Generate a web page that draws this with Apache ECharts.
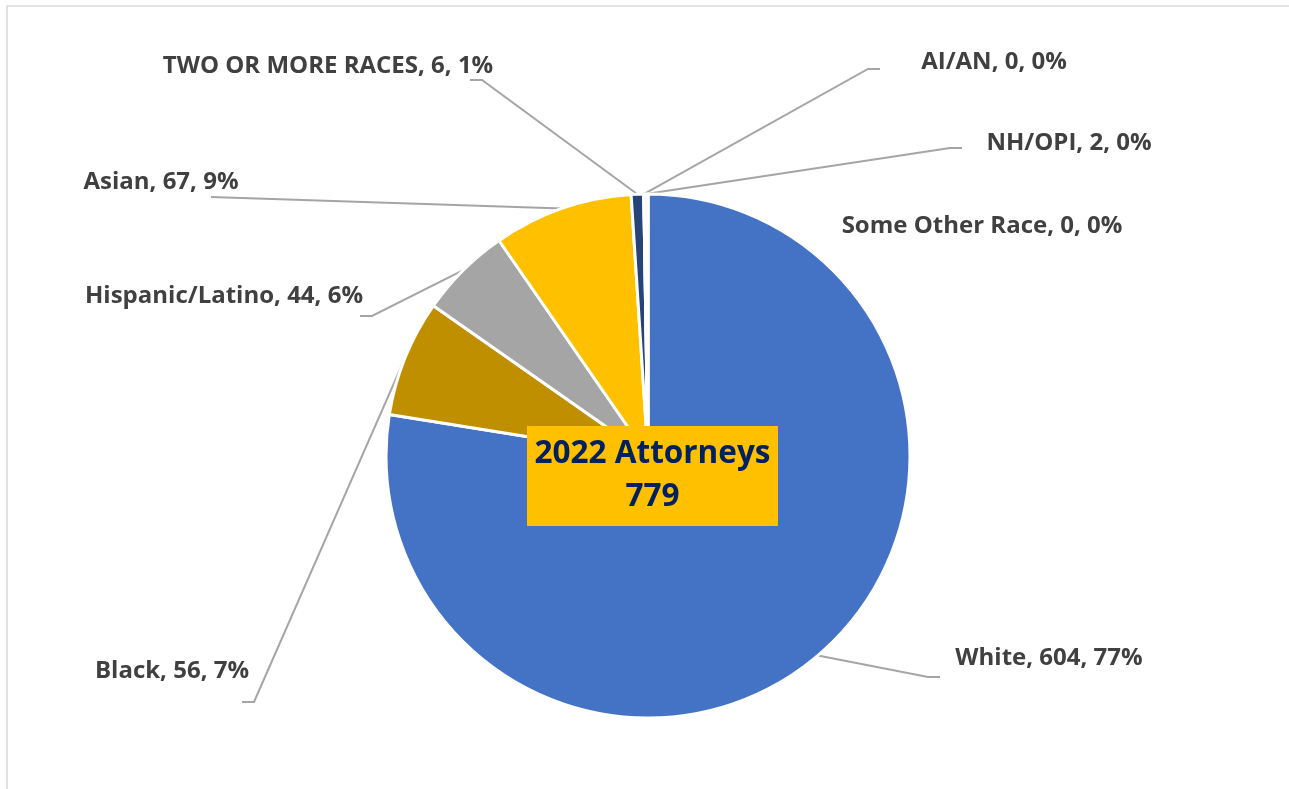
<!DOCTYPE html>
<html>
<head>
<meta charset="utf-8">
<script src="https://cdn.jsdelivr.net/npm/echarts@6/dist/echarts.min.js"></script>
<style>
  html, body { margin: 0; padding: 0; background: #ffffff; }
  #chart { width: 1289px; height: 789px; }
</style>
</head>
<body>
<div id="chart"></div>
<script>
// Attorneys by race, 2022
const categories = ['White', 'Black', 'Hispanic/Latino', 'Asian', 'TWO OR MORE RACES', 'AI/AN', 'NH/OPI', 'Some Other Race'];
const attorneys = [604, 56, 44, 67, 6, 0, 2, 0];
const sliceColors = ['#4472C4', '#BF8F00', '#A5A5A5', '#FFC000', '#264478', '#7F6000', '#F2F2F2', '#636363'];
const centreTitle = '2022 Attorneys';

const total = attorneys.reduce((a, b) => a + b, 0);

// Label centres and leader-line tails (elbow, end) for each category
const labelCentres = [[1049, 658], [172, 671], [224, 296], [161, 182], [328, 66], [994, 62], [1069, 143], [982, 226]];
const leaderTails = [
  [[928, 677], [940, 677]],
  [[254, 702], [242, 702]],
  [[372, 316], [360, 316]],
  [[211, 197]],
  [[482, 80], [470, 80]],
  [[868, 69], [880, 69]],
  [[950, 148], [962, 148]],
  null
];

const chart = echarts.init(document.getElementById('chart'), null, { renderer: 'canvas' });

chart.setOption({
  animation: false,
  backgroundColor: '#ffffff',
  graphic: [
    {
      type: 'rect', z: 0, silent: true,
      shape: { x: 7, y: 6, width: 1320, height: 820 },
      style: { fill: null, stroke: '#D9D9D9', lineWidth: 1.5 }
    },
    {
      type: 'rect', z: 100, silent: true,
      shape: { x: 527, y: 426, width: 251, height: 100 },
      style: { fill: '#FFC000' }
    },
    {
      type: 'text', z: 101, silent: true,
      x: 652.5, y: 476,
      style: {
        text: centreTitle + '\n' + total,
        fill: '#002060',
        font: 'bold 31.5px "Open Sans", sans-serif',
        align: 'center',
        verticalAlign: 'middle',
        lineHeight: 43
      }
    }
  ],
  series: [{
    type: 'pie',
    silent: true,
    center: [648, 456],
    radius: 262,
    startAngle: 90,
    clockwise: true,
    percentPrecision: 0,
    avoidLabelOverlap: false,
    itemStyle: { borderColor: '#ffffff', borderWidth: 3 },
    label: {
      show: true,
      formatter: '{b}, {c}, {d}%',
      fontFamily: '"Open Sans", sans-serif',
      fontWeight: 'bold',
      fontSize: 24,
      color: '#404040'
    },
    labelLine: {
      show: true,
      length: 10,
      length2: 10,
      lineStyle: { color: '#A5A5A5', width: 2 }
    },
    labelLayout: function (p) {
      const i = p.dataIndex;
      const c = labelCentres[i];
      const out = { x: c[0], y: c[1], align: 'center', verticalAlign: 'middle' };
      const tail = leaderTails[i];
      if (tail && p.labelLinePoints) {
        out.labelLinePoints = [p.labelLinePoints[0]].concat(tail);
      }
      return out;
    },
    data: categories.map((name, i) => ({
      name: name,
      value: attorneys[i],
      itemStyle: { color: sliceColors[i] },
      labelLine: { show: leaderTails[i] !== null }
    }))
  }]
});
</script>
</body>
</html>
